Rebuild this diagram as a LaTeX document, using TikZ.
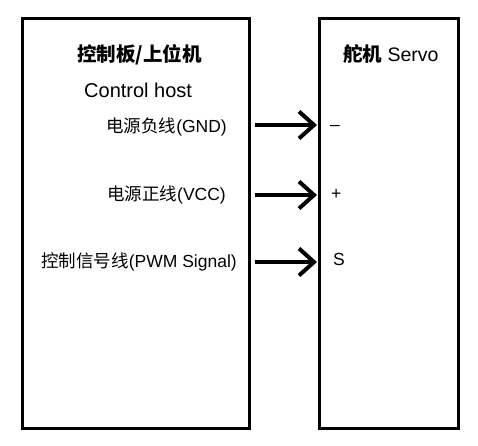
\documentclass[tikz,border=0pt]{standalone}
\usepackage{fontspec}
\setmainfont{Liberation Sans}
\newfontfamily\cjk{Noto Sans CJK SC}
\usetikzlibrary{arrows.meta}
\newcommand{\zh}[1]{{\cjk #1}}
\begin{document}
\begin{tikzpicture}[x=1pt,y=-1pt,
  box/.style={draw,line width=3pt,rectangle,inner sep=0pt},
  lbl/.style={inner sep=0pt,font=\fontsize{17.5}{20}\selectfont},
  ttl/.style={inner sep=0pt,font=\fontsize{19.5}{22}\selectfont},
  sig/.style={line width=4pt,-{Straight Barb[length=15pt,width=27pt]}}]
\useasboundingbox (0,0) rectangle (478,445);
\node[box,minimum width=227pt,minimum height=410pt] (host) at (135.5,223) {};
\node[box,minimum width=139pt,minimum height=410pt] (servo) at (389,223) {};
\node[ttl,anchor=base west] (t1) at (77,61) {\zh{\bfseries 控制板/上位机}};
\node[ttl,anchor=base west] (t2) at (343,61) {\zh{\bfseries 舵机} Servo};
\node[ttl,anchor=base west,font=\fontsize{20}{22}\selectfont] (t3) at (84,97) {Control host};
\node[lbl,anchor=base east] (gnd) at (227,132) {\zh{电源负线}(GND)};
\node[lbl,anchor=base east] (vcc) at (226,200) {\zh{电源正线}(VCC)};
\node[lbl,anchor=base east] (pwm) at (237,267) {\zh{控制信号线}(PWM Signal)};
\node[lbl,anchor=base west] (pm) at (330,130) {–};
\node[lbl,anchor=base west] (pp) at (331,199) {+};
\node[lbl,anchor=base west] (ps) at (333,265) {S};
\coordinate (y1) at (0,125);
\coordinate (y2) at (0,195);
\coordinate (y3) at (0,262);
\draw[sig] ([xshift=4pt]host.east |- y1) -- ([xshift=-1pt]servo.west |- y1);
\draw[sig] ([xshift=4pt]host.east |- y2) -- ([xshift=-1pt]servo.west |- y2);
\draw[sig] ([xshift=4pt]host.east |- y3) -- ([xshift=-1pt]servo.west |- y3);
\end{tikzpicture}
\end{document}
